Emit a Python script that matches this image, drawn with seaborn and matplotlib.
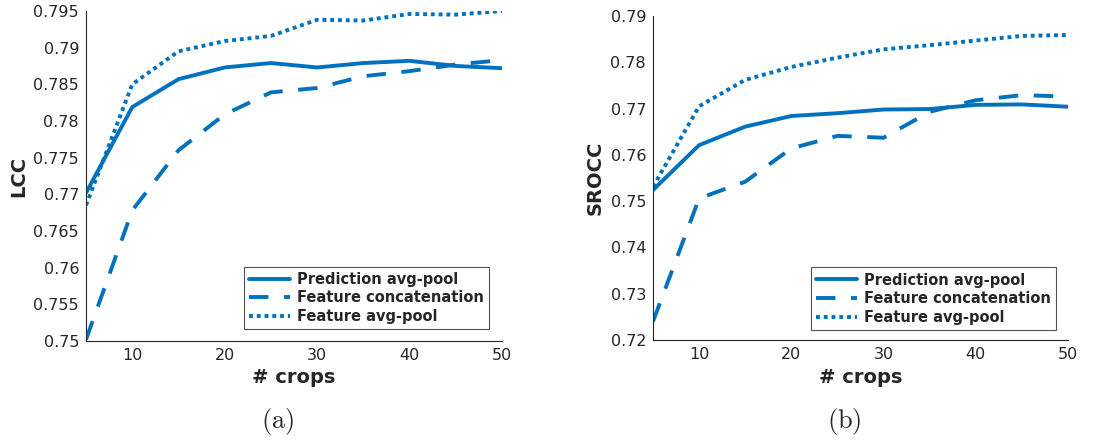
import numpy as np
import pandas as pd
import seaborn as sns
import matplotlib.pyplot as plt

# number of crops
crops = [5, 10, 15, 20, 25, 30, 35, 40, 45, 50]

# (a) LCC
lcc_pred_avg = [0.7702, 0.7819, 0.7857, 0.7873, 0.7879, 0.7873, 0.7879, 0.7882, 0.7875, 0.7872]
lcc_feat_concat = [0.7502, 0.7678, 0.7760, 0.7809, 0.7839, 0.7845, 0.7861, 0.7868, 0.7877, 0.7883]
lcc_feat_avg = [0.7685, 0.7850, 0.7895, 0.7909, 0.7916, 0.7938, 0.7937, 0.7946, 0.7945, 0.7950]

# (b) SROCC
srocc_pred_avg = [0.7524, 0.7621, 0.7661, 0.7684, 0.7690, 0.7698, 0.7699, 0.7708, 0.7709, 0.7704]
srocc_feat_concat = [0.7240, 0.7506, 0.7542, 0.7614, 0.7641, 0.7637, 0.7693, 0.7718, 0.7729, 0.7726]
srocc_feat_avg = [0.7531, 0.7705, 0.7762, 0.7790, 0.7810, 0.7828, 0.7837, 0.7847, 0.7857, 0.7859]

methods = ["Prediction avg-pool", "Feature concatenation", "Feature avg-pool"]
blue = "#0072BD"


def make_df(series):
    rows = []
    for name, vals in zip(methods, series):
        for c, v in zip(crops, vals):
            rows.append({"crops": c, "value": v, "method": name})
    return pd.DataFrame(rows)


sns.set_style("white")
plt.rcParams["font.family"] = ["DejaVu Sans"]
plt.rcParams["mathtext.fontset"] = "cm"

fig = plt.figure(figsize=(10.96, 4.41), dpi=100)
ax1 = fig.add_axes([0.0785, 0.2268, 0.3796, 0.7483])
ax2 = fig.add_axes([0.5958, 0.2290, 0.3786, 0.7347])

dash_styles = {methods[0]: "", methods[1]: (5.0, 4.0), methods[2]: (1.0, 1.0)}

panels = [
    (ax1, [lcc_pred_avg, lcc_feat_concat, lcc_feat_avg], "LCC",
     np.arange(0.75, 0.7951, 0.005), (0.75, 0.795), (0.969, 0.036), r"$\mathrm{(a)}$"),
    (ax2, [srocc_pred_avg, srocc_feat_concat, srocc_feat_avg], "SROCC",
     np.arange(0.72, 0.7901, 0.01), (0.72, 0.79), (0.971, 0.031), r"$\mathrm{(b)}$"),
]

for ax, series, ylab, yticks, ylim, leg_anchor, sub in panels:
    df = make_df(series)
    sns.lineplot(data=df, x="crops", y="value", style="method", style_order=methods,
                 dashes=dash_styles, color=blue, linewidth=2.8, ax=ax)
    ax.set_xlim(5, 50)
    ax.set_ylim(*ylim)
    ax.set_xticks([10, 20, 30, 40, 50])
    ax.set_yticks(yticks)
    ax.set_yticklabels(["%g" % round(t, 3) for t in yticks])
    ax.tick_params(direction="in", length=4, width=0.8, colors="#262626",
                   labelsize=11.5, pad=5)
    for side in ["top", "right"]:
        ax.spines[side].set_visible(False)
    for side in ["left", "bottom"]:
        ax.spines[side].set_color("#262626")
        ax.spines[side].set_linewidth(0.8)
    ax.set_xlabel("# crops", fontsize=14, fontweight="bold", color="#262626", labelpad=4)
    ax.set_ylabel(ylab, fontsize=14, fontweight="bold", color="#262626", labelpad=4)
    leg = ax.legend(loc="lower right", bbox_to_anchor=leg_anchor, borderaxespad=0,
                    fancybox=False, frameon=True, handlelength=2.8, handletextpad=0.5,
                    labelspacing=0.25, borderpad=0.35,
                    prop={"weight": "bold", "size": 10.5})
    leg.get_frame().set_edgecolor("#262626")
    leg.get_frame().set_linewidth(0.8)
    for line in leg.get_lines():
        line.set_linewidth(2.8)
    # subfigure caption
    pos = ax.get_position()
    fig.text(pos.x0 + pos.width * 0.46, 0.045, sub, ha="center", va="center", fontsize=19)

plt.savefig("out.png", dpi=100)
